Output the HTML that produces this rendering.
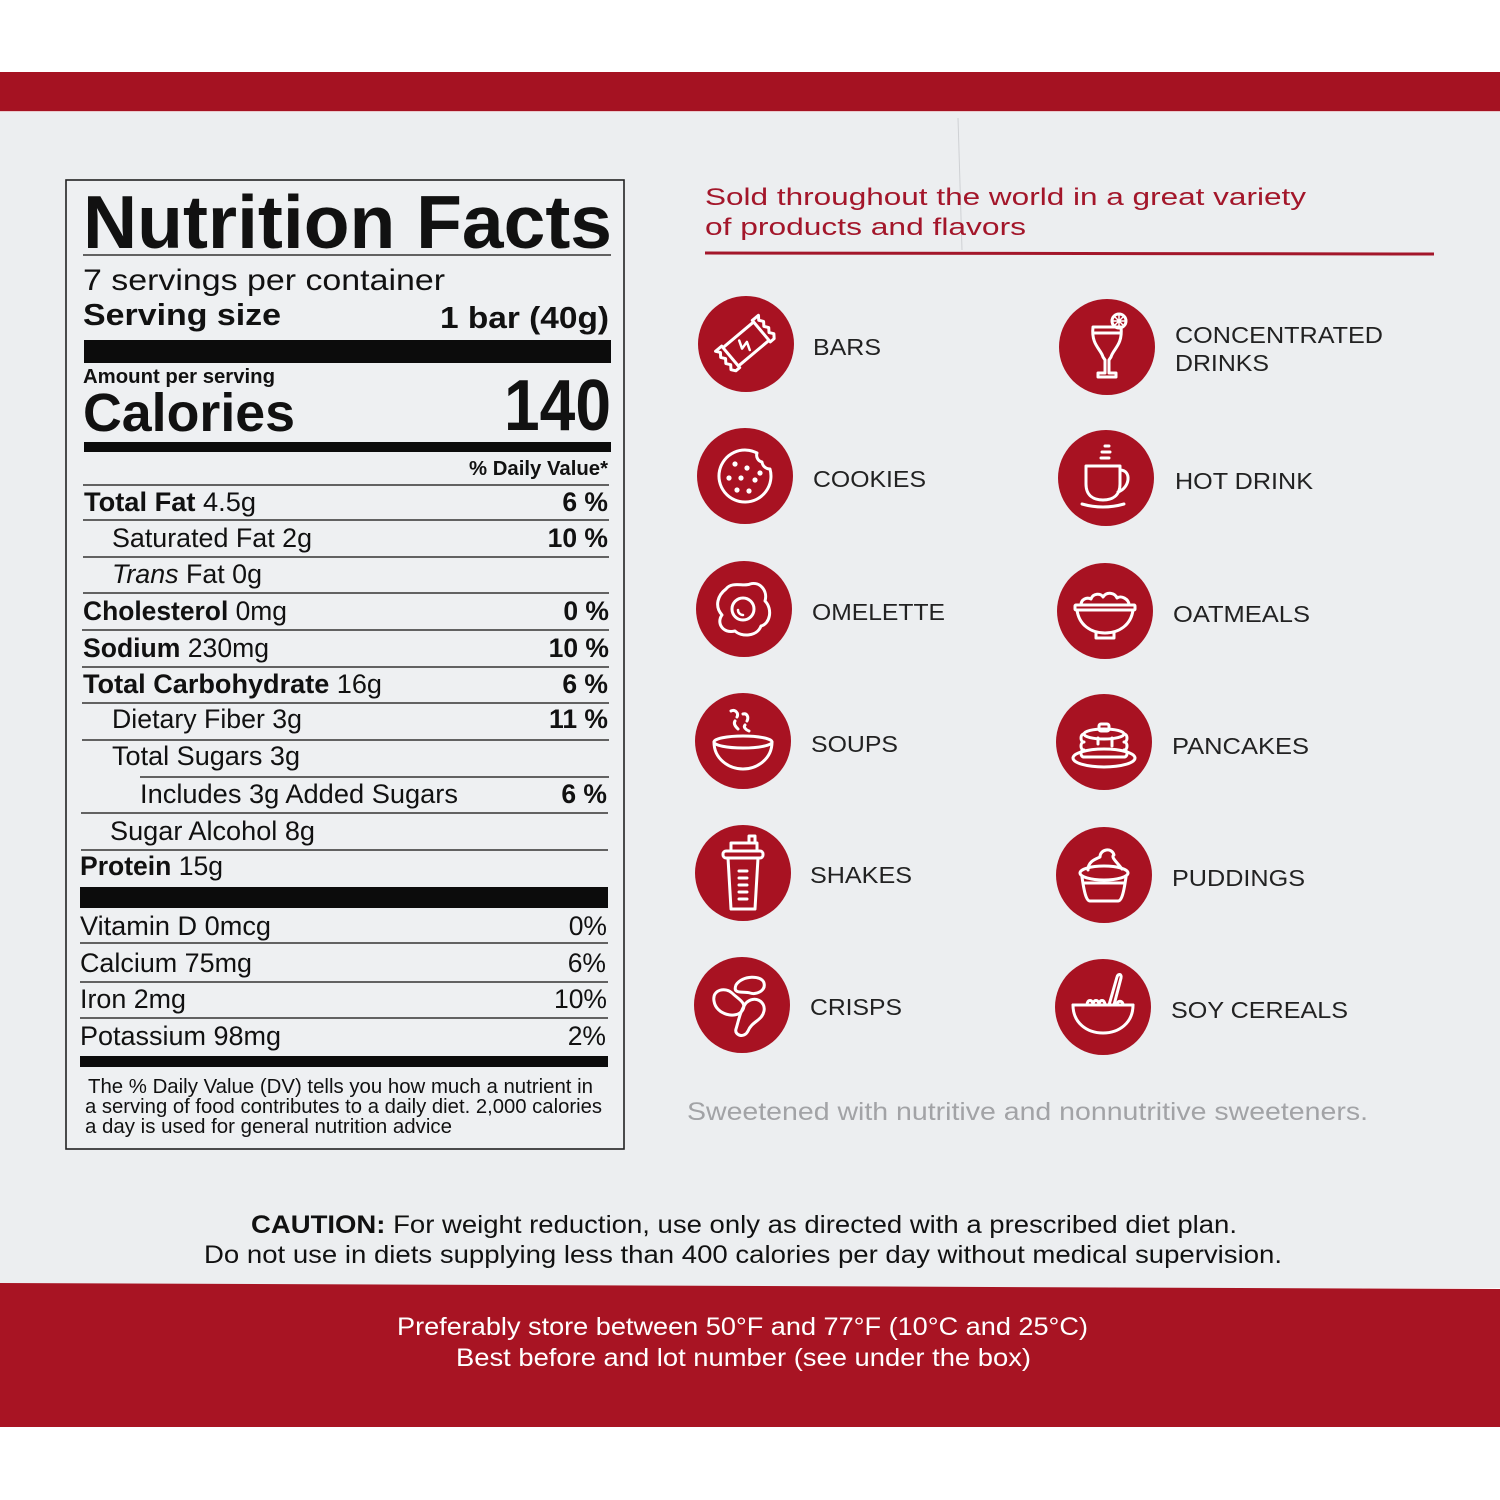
<!DOCTYPE html>
<html>
<head>
<meta charset="utf-8">
<style>
  html,body{margin:0;padding:0;background:#fff;}
  svg{display:block;}
</style>
</head>
<body>
<svg width="1500" height="1500" viewBox="0 0 1500 1500" xmlns="http://www.w3.org/2000/svg" font-family="'Liberation Sans', Arial, sans-serif">
  <!-- backgrounds -->
  <rect width="1500" height="1500" fill="#ffffff"/>
  <rect x="0" y="110" width="1500" height="1178" fill="#eceef0"/>
  <rect x="0" y="72" width="1500" height="39" fill="#a51222"/>
  <line x1="0" y1="111.5" x2="1500" y2="111.5" stroke="#e9c9cc" stroke-width="1"/>
  <polygon points="0,1283 1500,1289 1500,1427 0,1427" fill="#a81423"/>
  <line x1="958" y1="118" x2="962" y2="250" stroke="#cfd1d4" stroke-width="1"/>

  <!-- Nutrition facts box -->
  <rect x="66" y="180" width="558" height="969" fill="#eef0f2" stroke="#222" stroke-width="1.6"/>

  <g fill="#111">
    <text x="83" y="248" font-size="75" font-weight="bold" textLength="529" lengthAdjust="spacingAndGlyphs">Nutrition Facts</text>
    <text x="83" y="290" font-size="30" textLength="362" lengthAdjust="spacingAndGlyphs">7 servings per container</text>
    <text x="83" y="325" font-size="31" font-weight="bold" textLength="198" lengthAdjust="spacingAndGlyphs">Serving size</text>
    <text x="440" y="328" font-size="31" font-weight="bold" textLength="169" lengthAdjust="spacingAndGlyphs">1 bar (40g)</text>
    <text x="83" y="383" font-size="20" font-weight="bold" textLength="192" lengthAdjust="spacingAndGlyphs">Amount per serving</text>
    <text x="83" y="431" font-size="54" font-weight="bold" textLength="212" lengthAdjust="spacingAndGlyphs">Calories</text>
    <text x="504" y="430" font-size="72" font-weight="bold" textLength="107" lengthAdjust="spacingAndGlyphs">140</text>
    <text x="469" y="475" font-size="20" font-weight="bold" textLength="139" lengthAdjust="spacingAndGlyphs">% Daily Value*</text>
  </g>

  <!-- rules -->
  <g stroke="#333" stroke-width="1.5">
    <line x1="83" y1="255" x2="611" y2="255"/>
    <line x1="83" y1="485" x2="609" y2="485"/>
    <line x1="83" y1="520" x2="609" y2="520"/>
    <line x1="83" y1="557" x2="609" y2="557"/>
    <line x1="83" y1="593" x2="609" y2="593"/>
    <line x1="82" y1="630" x2="609" y2="630"/>
    <line x1="82" y1="667" x2="609" y2="667"/>
    <line x1="82" y1="703" x2="609" y2="703"/>
    <line x1="82" y1="740" x2="609" y2="740"/>
    <line x1="140" y1="777" x2="609" y2="777"/>
    <line x1="81" y1="813" x2="608" y2="813"/>
    <line x1="81" y1="850" x2="608" y2="850"/>
    <line x1="80" y1="943" x2="608" y2="943"/>
    <line x1="80" y1="982" x2="608" y2="982"/>
    <line x1="80" y1="1018" x2="608" y2="1018"/>
  </g>
  <g fill="#0c0c0c">
    <rect x="84" y="340" width="527" height="23"/>
    <rect x="84" y="442" width="527" height="10"/>
    <rect x="80" y="887" width="528" height="21"/>
    <rect x="80" y="1056" width="528" height="11"/>
  </g>

  <!-- nutrient rows -->
  <g fill="#111" font-size="26.5">
    <text x="84" y="511" textLength="172" lengthAdjust="spacingAndGlyphs"><tspan font-weight="bold">Total Fat</tspan> 4.5g</text>
    <text x="112" y="547" textLength="200" lengthAdjust="spacingAndGlyphs">Saturated Fat 2g</text>
    <text x="112" y="583" textLength="150" lengthAdjust="spacingAndGlyphs"><tspan font-style="italic">Trans</tspan> Fat 0g</text>
    <text x="83" y="620" textLength="204" lengthAdjust="spacingAndGlyphs"><tspan font-weight="bold">Cholesterol</tspan> 0mg</text>
    <text x="83" y="657" textLength="186" lengthAdjust="spacingAndGlyphs"><tspan font-weight="bold">Sodium</tspan> 230mg</text>
    <text x="83" y="693" textLength="299" lengthAdjust="spacingAndGlyphs"><tspan font-weight="bold">Total Carbohydrate</tspan> 16g</text>
    <text x="112" y="728" textLength="190" lengthAdjust="spacingAndGlyphs">Dietary Fiber 3g</text>
    <text x="112" y="765" textLength="188" lengthAdjust="spacingAndGlyphs">Total Sugars 3g</text>
    <text x="140" y="803" textLength="318" lengthAdjust="spacingAndGlyphs">Includes 3g Added Sugars</text>
    <text x="110" y="840" textLength="205" lengthAdjust="spacingAndGlyphs">Sugar Alcohol 8g</text>
    <text x="80" y="875" textLength="143" lengthAdjust="spacingAndGlyphs"><tspan font-weight="bold">Protein</tspan> 15g</text>
    <text x="80" y="935" textLength="191" lengthAdjust="spacingAndGlyphs">Vitamin D 0mcg</text>
    <text x="80" y="972" textLength="172" lengthAdjust="spacingAndGlyphs">Calcium 75mg</text>
    <text x="80" y="1008" textLength="106" lengthAdjust="spacingAndGlyphs">Iron 2mg</text>
    <text x="80" y="1045" textLength="201" lengthAdjust="spacingAndGlyphs">Potassium 98mg</text>
  </g>
  <g fill="#111" font-size="26.5" font-weight="bold" text-anchor="end">
    <text x="608" y="511">6 %</text>
    <text x="608" y="547">10 %</text>
    <text x="609" y="620">0 %</text>
    <text x="609" y="657">10 %</text>
    <text x="608" y="693">6 %</text>
    <text x="608" y="728">11 %</text>
    <text x="607" y="803">6 %</text>
  </g>
  <g fill="#111" font-size="26.5" text-anchor="end">
    <text x="607" y="935">0%</text>
    <text x="606" y="972">6%</text>
    <text x="607" y="1008">10%</text>
    <text x="606" y="1045">2%</text>
  </g>
  <g fill="#111" font-size="20">
    <text x="88" y="1093" textLength="505" lengthAdjust="spacingAndGlyphs">The % Daily Value (DV) tells you how much a nutrient in</text>
    <text x="85" y="1113" textLength="517" lengthAdjust="spacingAndGlyphs">a serving of food contributes to a daily diet. 2,000 calories</text>
    <text x="85" y="1133" textLength="367" lengthAdjust="spacingAndGlyphs">a day is used for general nutrition advice</text>
  </g>

  <!-- right header -->
  <g fill="#a3162a" font-size="24.5">
    <text x="705" y="205" textLength="601" lengthAdjust="spacingAndGlyphs">Sold throughout the world in a great variety</text>
    <text x="705" y="235" textLength="321" lengthAdjust="spacingAndGlyphs">of products and flavors</text>
  </g>
  <line x1="705" y1="253" x2="1434" y2="254" stroke="#a3162a" stroke-width="3"/>

  <!-- icon circles -->
  <g fill="#a81222">
    <circle cx="746" cy="344" r="48"/>
    <circle cx="1107" cy="347" r="48"/>
    <circle cx="745" cy="476" r="48"/>
    <circle cx="1106" cy="478" r="48"/>
    <circle cx="744" cy="609" r="48"/>
    <circle cx="1105" cy="611" r="48"/>
    <circle cx="743" cy="741" r="48"/>
    <circle cx="1104" cy="742" r="48"/>
    <circle cx="743" cy="873" r="48"/>
    <circle cx="1104" cy="875" r="48"/>
    <circle cx="742" cy="1005" r="48"/>
    <circle cx="1103" cy="1007" r="48"/>
  </g>

  <!-- icons -->
  <g fill="none" stroke="#ffffff" stroke-width="3" stroke-linecap="round" stroke-linejoin="round">
    <!-- bars -->
    <g transform="translate(746,344) rotate(-40)">
      <rect x="-20" y="-12" width="40" height="24"/>
      <path d="M-20,-14 L-28,-14 L-25,-10 L-28,-6 L-25,-2 L-28,2 L-25,6 L-28,10 L-25,14 L-20,14"/>
      <path d="M20,-14 L28,-14 L25,-10 L28,-6 L25,-2 L28,2 L25,6 L28,10 L25,14 L20,14"/>
      <path d="M-3,-7 L-6,1 L2,-1 L-1,7" stroke-width="2.5"/>
    </g>
    <!-- concentrated drinks -->
    <g transform="translate(1107,347)">
      <path d="M-14,-20 C-16,-2 -6,2 -4,10 L-2,13 V26 H-9 V30 H9 V26 H2 V13 L4,10 C6,2 16,-2 14,-20 Z"/>
      <path d="M-14,-14 H14"/>
      <circle cx="12" cy="-26" r="7"/>
      <path d="M12,-33 V-19 M5,-26 H19 M7,-31 L17,-21 M17,-31 L7,-21" stroke-width="1.5"/>
    </g>
    <!-- cookies -->
    <g transform="translate(745,476)">
      <path d="M12,-23 A26,26 0 1 0 25,-7 A8,8 0 0 1 17,-14 A7,7 0 0 1 12,-23 Z"/>
      <g fill="#fff" stroke="none">
        <circle cx="-10" cy="-12" r="2.6"/>
        <circle cx="2" cy="-8" r="2.6"/>
        <circle cx="-16" cy="2" r="2.6"/>
        <circle cx="-4" cy="2" r="2.6"/>
        <circle cx="10" cy="4" r="2.6"/>
        <circle cx="-8" cy="14" r="2.6"/>
        <circle cx="4" cy="15" r="2.6"/>
        <circle cx="15" cy="-3" r="2.6"/>
      </g>
    </g>
    <!-- hot drink -->
    <g transform="translate(1106,478)">
      <path d="M-20,-12 H14 V6 C14,18 6,22 -3,22 C-12,22 -20,18 -20,6 Z"/>
      <path d="M14,-8 C26,-8 24,10 12,14"/>
      <path d="M-24,26 Q-3,32 18,26"/>
      <path d="M-5,-20 H3 M-4,-26 H4 M-1,-32 H3"/>
    </g>
    <!-- omelette -->
    <g transform="translate(744,609)">
      <path d="M-18,-20 C-12,-28 0,-22 6,-25 C16,-28 24,-18 21,-8 C29,0 26,15 17,17 C13,28 -3,28 -9,22 C-21,25 -28,14 -22,6 C-30,-3 -26,-14 -18,-20 Z"/>
      <circle cx="-1" cy="0" r="11"/>
      <path d="M-6,1 A5,5 0 0 0 -1,6" stroke-width="2.5"/>
    </g>
    <!-- oatmeals -->
    <g transform="translate(1105,611)">
      <rect x="-30" y="-6" width="60" height="5" rx="1"/>
      <path d="M-28,-1 C-26,14 -14,22 0,22 C14,22 26,14 28,-1"/>
      <path d="M-9,22 V27 H9 V22"/>
      <path d="M-24,-6 C-24,-12 -18,-14 -14,-12 C-12,-18 -4,-18 -2,-14 C2,-20 10,-18 12,-13 C16,-16 24,-12 24,-6"/>
    </g>
    <!-- soups -->
    <g transform="translate(743,741)">
      <ellipse cx="0" cy="1" rx="29" ry="6"/>
      <path d="M-29,1 C-29,18 -14,28 0,28 C14,28 29,18 29,1"/>
      <path d="M-12,-30 C-8,-32 -4,-28 -6,-24 M-8,-20 C-10,-17 -7,-14 -5,-12 M0,-27 C4,-28 6,-24 4,-20 M2,-16 C0,-14 3,-11 6,-10"/>
    </g>
    <!-- pancakes -->
    <g transform="translate(1104,742)">
      <ellipse cx="0" cy="16" rx="31" ry="9"/>
      <path d="M-20,-8 C-24,-8 -24,0 -20,0 C-24,0 -24,8 -20,8 C-24,8 -24,15 -20,15 H20 C24,15 24,8 20,8 C24,8 24,0 20,0 C24,0 24,-8 20,-8"/>
      <ellipse cx="0" cy="-8" rx="20" ry="5"/>
      <rect x="-5" y="-18" width="10" height="7" rx="2"/>
      <path d="M8,-4 V4 M-6,-4 V2"/>
    </g>
    <!-- shakes -->
    <g transform="translate(743,873)">
      <path d="M6,-30 V-37 H12 V-30"/>
      <path d="M-12,-22 V-30 H14 V-22"/>
      <rect x="-20" y="-22" width="40" height="7" rx="3"/>
      <path d="M-15,-15 L-12,36 H12 L15,-15"/>
      <path d="M-4,-2 H4 M-4,5 H4 M-4,12 H4 M-4,19 H4 M-4,26 H4"/>
    </g>
    <!-- puddings -->
    <g transform="translate(1104,875)">
      <ellipse cx="0" cy="-2" rx="24" ry="7"/>
      <path d="M-22,2 C-20,16 -18,26 -14,26 H14 C18,26 20,16 22,2"/>
      <path d="M-16,-5 C-16,-14 -8,-16 -4,-18 C-4,-26 8,-28 10,-20 C6,-18 14,-12 18,-6"/>
      <path d="M-20,8 H20"/>
    </g>
    <!-- crisps -->
    <g transform="translate(742,1005)">
      <path d="M-6,-20 C0,-30 20,-30 22,-22 C24,-14 14,-10 8,-12 C2,-14 -10,-10 -6,-20 Z"/>
      <path d="M-28,-4 C-30,-16 -16,-18 -10,-12 C-4,-6 6,-2 0,6 C-6,14 -26,10 -28,-4 Z"/>
      <path d="M4,-2 C12,-10 24,-4 22,6 C20,16 10,16 6,26 C2,34 -8,30 -6,24 C-4,18 -2,6 4,-2 Z"/>
    </g>
    <!-- soy cereals -->
    <g transform="translate(1103,1007)">
      <path d="M-30,-2 H30"/>
      <path d="M-30,-2 C-30,16 -16,26 0,26 C16,26 30,16 30,-2"/>
      <path d="M6,-2 L14,-30 C15,-34 19,-33 18,-29 L11,-2"/>
      <path d="M-16,-2 C-16,-8 -10,-8 -10,-2 M-10,-2 C-10,-8 -4,-8 -4,-2 M-4,-2 C-4,-8 2,-8 2,-2 M14,-2 C14,-7 20,-7 20,-2"/>
    </g>
  </g>

  <!-- icon labels -->
  <g fill="#222" font-size="23">
    <text x="813" y="355" textLength="68" lengthAdjust="spacingAndGlyphs">BARS</text>
    <text x="1175" y="343" textLength="208" lengthAdjust="spacingAndGlyphs">CONCENTRATED</text>
    <text x="1175" y="371" textLength="94" lengthAdjust="spacingAndGlyphs">DRINKS</text>
    <text x="813" y="487" textLength="113" lengthAdjust="spacingAndGlyphs">COOKIES</text>
    <text x="1175" y="489" textLength="138" lengthAdjust="spacingAndGlyphs">HOT DRINK</text>
    <text x="812" y="620" textLength="133" lengthAdjust="spacingAndGlyphs">OMELETTE</text>
    <text x="1173" y="622" textLength="137" lengthAdjust="spacingAndGlyphs">OATMEALS</text>
    <text x="811" y="752" textLength="87" lengthAdjust="spacingAndGlyphs">SOUPS</text>
    <text x="1172" y="754" textLength="137" lengthAdjust="spacingAndGlyphs">PANCAKES</text>
    <text x="810" y="883" textLength="102" lengthAdjust="spacingAndGlyphs">SHAKES</text>
    <text x="1172" y="886" textLength="133" lengthAdjust="spacingAndGlyphs">PUDDINGS</text>
    <text x="810" y="1015" textLength="92" lengthAdjust="spacingAndGlyphs">CRISPS</text>
    <text x="1171" y="1018" textLength="177" lengthAdjust="spacingAndGlyphs">SOY CEREALS</text>
  </g>

  <text x="687" y="1120" font-size="25" fill="#a2a3a6" textLength="681" lengthAdjust="spacingAndGlyphs">Sweetened with nutritive and nonnutritive sweeteners.</text>

  <!-- caution -->
  <g fill="#111" font-size="25">
    <text x="251" y="1233" textLength="986" lengthAdjust="spacingAndGlyphs"><tspan font-weight="bold">CAUTION:</tspan> For weight reduction, use only as directed with a prescribed diet plan.</text>
    <text x="204" y="1263" textLength="1078" lengthAdjust="spacingAndGlyphs">Do not use in diets supplying less than 400 calories per day without medical supervision.</text>
  </g>

  <!-- storage -->
  <g fill="#ffffff" font-size="25">
    <text x="397" y="1335" textLength="691" lengthAdjust="spacingAndGlyphs">Preferably store between 50°F and 77°F (10°C and 25°C)</text>
    <text x="456" y="1366" textLength="575" lengthAdjust="spacingAndGlyphs">Best before and lot number (see under the box)</text>
  </g>
</svg>
</body>
</html>
